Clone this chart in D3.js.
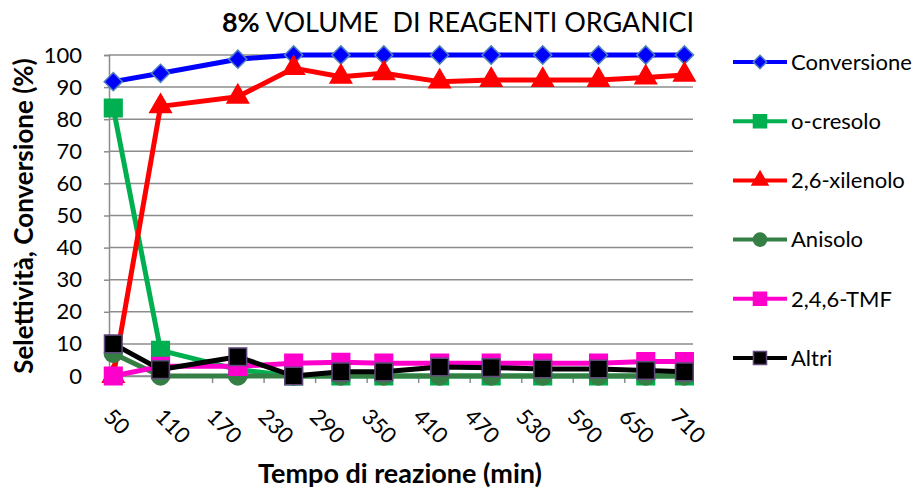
<!DOCTYPE html>
<html>
<head>
<meta charset="utf-8">
<script src="https://cdn.jsdelivr.net/npm/d3@7"></script>
<style>
  body { margin: 0; background: #fff; }
  text { font-family: Lato, "Open Sans", sans-serif; fill: #000; }
</style>
</head>
<body>
<div id="chartArea"></div>
<script>
// data setup
var times = [55, 110, 200, 265, 320, 370, 435, 495, 555, 620, 675, 720];
var conversione = [91.7, 94.3, 98.7, 100, 100, 100, 100, 100, 100, 100, 100, 100];
var oCresolo = [83.5, 8, 2, 0, 0, 0, 0, 0, 0, 0, 0, 0];
var xilenolo = [0, 84, 87, 95.9, 93.2, 94.3, 91.7, 92.2, 92.2, 92.2, 93, 93.8];
var anisolo = [7, 0, 0, 0, 0, 0, 0, 0, 0, 0, 0, 0];
var tmf = [0, 3, 3, 4, 4.3, 4, 4, 4, 4, 4, 4.5, 4.5];
var altri = [10, 2, 6, 0, 1.3, 1.3, 2.8, 2.6, 2.2, 2.2, 1.7, 1.3];

var xTicks = [50, 110, 170, 230, 290, 350, 410, 470, 530, 590, 650, 710];
var yTicks = [0, 10, 20, 30, 40, 50, 60, 70, 80, 90, 100];

// diamond = square turned by 45 degrees
var series = [
  {name: "Conversione", values: conversione, color: "#0000FF", symbol: d3.symbolSquare, rot: 45, size: 165, stroke: "#4F81BD"},
  {name: "o-cresolo", values: oCresolo, color: "#00B050", symbol: d3.symbolSquare, rot: 0, size: 310, stroke: "#00B050"},
  {name: "2,6-xilenolo", values: xilenolo, color: "#FF0000", symbol: d3.symbolTriangle, rot: 0, size: 200, stroke: "#FF0000"},
  {name: "Anisolo", values: anisolo, color: "#357F45", symbol: d3.symbolCircle, rot: 0, size: 250, stroke: "#357F45"},
  {name: "2,4,6-TMF", values: tmf, color: "#FF00CC", symbol: d3.symbolSquare, rot: 0, size: 310, stroke: "#FF00CC"},
  {name: "Altri", values: altri, color: "#000000", symbol: d3.symbolSquare, rot: 0, size: 310, stroke: "#604A7B"}
];

var W = 915, H = 495;
var plot = {left: 109, right: 693, top: 55, bottom: 376};

var x = d3.scaleLinear().domain([50, 730]).range([plot.left, plot.right]);
var y = d3.scaleLinear().domain([0, 100]).range([plot.bottom, plot.top]);

var svg = d3.select("#chartArea").append("svg")
  .attr("width", W)
  .attr("height", H);

// gridlines
svg.append("g")
  .selectAll("line")
  .data(yTicks)
  .enter().append("line")
  .attr("x1", plot.left).attr("x2", plot.right)
  .attr("y1", function(d) { return y(d); })
  .attr("y2", function(d) { return y(d); })
  .attr("stroke", "#8C8C8C")
  .attr("stroke-width", 1.5);

// y axis
var yAxis = svg.append("g")
  .attr("transform", "translate(" + plot.left + ",0)")
  .call(d3.axisLeft(y).tickValues(yTicks).tickSize(5).tickPadding(22));
yAxis.select(".domain").attr("stroke", "#8C8C8C").attr("stroke-width", 1.5);
yAxis.selectAll(".tick line").attr("stroke", "#8C8C8C").attr("stroke-width", 1.5);
yAxis.selectAll(".tick text")
  .style("font-size", "22px")
  .style("font-family", "Lato, sans-serif")
  .attr("fill", "#000");

// x axis
var xAxis = svg.append("g")
  .attr("transform", "translate(0," + plot.bottom + ")")
  .call(d3.axisBottom(x).tickValues(xTicks).tickSize(7).tickSizeOuter(0));
xAxis.select(".domain").attr("stroke", "#8C8C8C").attr("stroke-width", 1.5);
xAxis.selectAll(".tick line").attr("stroke", "#8C8C8C").attr("stroke-width", 1.5);
xAxis.selectAll(".tick text")
  .style("font-size", "22px")
  .style("font-family", "Lato, sans-serif")
  .attr("fill", "#000")
  .attr("text-anchor", "start")
  .attr("x", 0)
  .attr("y", 0)
  .attr("dy", 0)
  .attr("transform", "translate(-7,42) rotate(45)");

// lines
var line = d3.line()
  .x(function(d, i) { return x(times[i]); })
  .y(function(d) { return y(d); });

series.forEach(function(s) {
  svg.append("path")
    .datum(s.values)
    .attr("fill", "none")
    .attr("stroke", s.color)
    .attr("stroke-width", 5)
    .attr("stroke-linejoin", "round")
    .attr("d", line);

  svg.append("g")
    .selectAll("path")
    .data(s.values)
    .enter().append("path")
    .attr("transform", function(d, i) {
      return "translate(" + x(times[i]) + "," + y(d) + ") rotate(" + s.rot + ")";
    })
    .attr("d", d3.symbol().type(s.symbol).size(s.size))
    .attr("fill", s.color)
    .attr("stroke", s.stroke)
    .attr("stroke-width", 1.5);
});

// legend
var legend = svg.append("g")
  .selectAll("g")
  .data(series)
  .enter().append("g")
  .attr("transform", function(d, i) { return "translate(733," + (62 + i * 59.2) + ")"; });

legend.append("line")
  .attr("x1", 0).attr("x2", 54)
  .attr("stroke", function(d) { return d.color; })
  .attr("stroke-width", 4);

legend.append("path")
  .attr("transform", function(d) { return "translate(27,0) rotate(" + d.rot + ")"; })
  .attr("d", function(d) {
    return d3.symbol().type(d.symbol).size(d.size * 0.55)();
  })
  .attr("fill", function(d) { return d.color; })
  .attr("stroke", function(d) { return d.stroke; })
  .attr("stroke-width", 1.5);

legend.append("text")
  .attr("x", 58)
  .attr("dy", "0.35em")
  .style("font-size", "22px")
  .text(function(d) { return d.name; });

// title
var title = svg.append("text")
  .attr("x", 458)
  .attr("y", 32)
  .attr("text-anchor", "middle")
  .style("font-size", "27px");
title.append("tspan").style("font-weight", "bold").text("8%");
title.append("tspan").text(" VOLUME\u00a0 DI REAGENTI ORGANICI");

// axis titles
svg.append("text")
  .attr("x", 400)
  .attr("y", 483)
  .attr("text-anchor", "middle")
  .style("font-size", "27px")
  .style("font-weight", "bold")
  .text("Tempo di reazione (min)");

svg.append("text")
  .attr("transform", "translate(24,216) rotate(-90)")
  .attr("text-anchor", "middle")
  .attr("dy", "0.35em")
  .style("font-size", "26px")
  .style("font-weight", "bold")
  .text("Selettività, Conversione (%)");
</script>
</body>
</html>
